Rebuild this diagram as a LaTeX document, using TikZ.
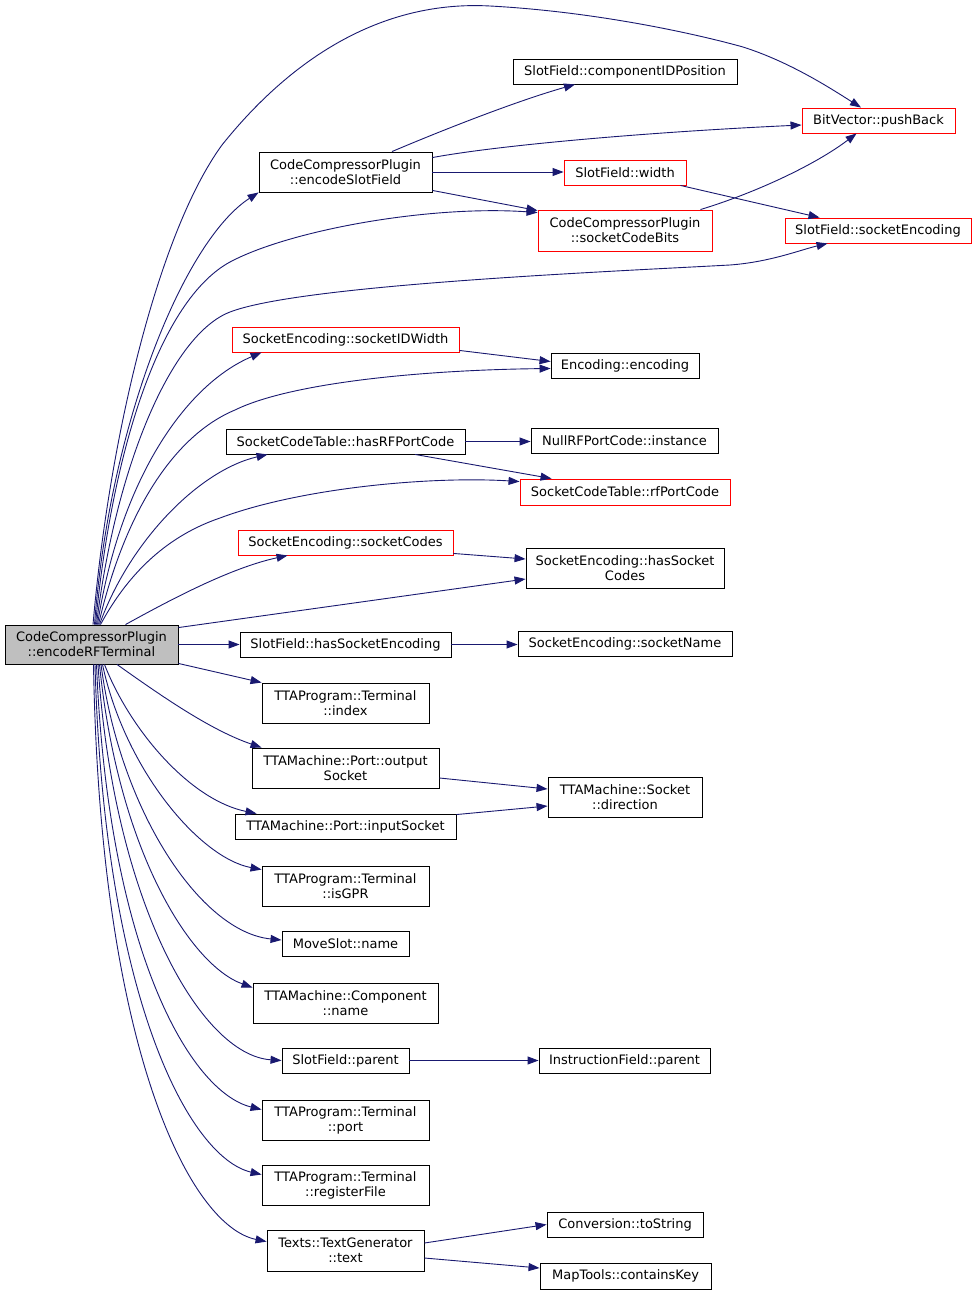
\documentclass[tikz,border=0pt]{standalone}
\usepackage{fontspec}
\setmainfont{DejaVu Sans}
\usetikzlibrary{arrows.meta}
\definecolor{edgeblue}{HTML}{191970}
\definecolor{rootgray}{HTML}{BFBFBF}
\definecolor{redline}{HTML}{FF0000}
\begin{document}
\begin{tikzpicture}[x=1pt,y=-1pt,
 fn/.style={draw=black, line width=0.9pt, fill=white, inner sep=0pt, align=center, font=\fontsize{13}{15}\selectfont},
 redfn/.style={fn, draw=redline},
 edge/.style={draw=edgeblue, line width=0.9pt, -{Triangle[length=11pt,width=8pt]}},
]
\fill[white] (0,0) rectangle (977,1295);
\path[use as bounding box] (0,0) rectangle (977,1295);

% column 1
\node[fn, fill=rootgray, minimum width=173pt, minimum height=39pt] (root) at (91.5,644.5) {CodeCompressorPlugin\\::encodeRFTerminal};

% column 2
\node[fn, minimum width=173pt, minimum height=40pt] (esf) at (345.5,172) {CodeCompressorPlugin\\::encodeSlotField};
\node[redfn, minimum width=227pt, minimum height=25pt] (siw) at (345.5,339.5) {SocketEncoding::socketIDWidth};
\node[fn, minimum width=239pt, minimum height=25pt] (hrpc) at (345.5,441.5) {SocketCodeTable::hasRFPortCode};
\node[redfn, minimum width=215pt, minimum height=25pt] (sc) at (345.5,542.5) {SocketEncoding::socketCodes};
\node[fn, minimum width=211pt, minimum height=25pt] (hse) at (345.5,644.5) {SlotField::hasSocketEncoding};
\node[fn, minimum width=167pt, minimum height=40pt] (idx) at (345.5,703) {TTAProgram::Terminal\\::index};
\node[fn, minimum width=187pt, minimum height=40pt] (os) at (345.5,768) {TTAMachine::Port::output\\Socket};
\node[fn, minimum width=221pt, minimum height=25pt] (is) at (345.5,826.5) {TTAMachine::Port::inputSocket};
\node[fn, minimum width=167pt, minimum height=40pt] (isgpr) at (345.5,886) {TTAProgram::Terminal\\::isGPR};
\node[fn, minimum width=127pt, minimum height=25pt] (mvn) at (345.5,943.5) {MoveSlot::name};
\node[fn, minimum width=185pt, minimum height=40pt] (comp) at (345.5,1003) {TTAMachine::Component\\::name};
\node[fn, minimum width=127pt, minimum height=25pt] (sfp) at (345.5,1060.5) {SlotField::parent};
\node[fn, minimum width=167pt, minimum height=40pt] (port) at (345.5,1120) {TTAProgram::Terminal\\::port};
\node[fn, minimum width=167pt, minimum height=40pt] (rf) at (345.5,1185) {TTAProgram::Terminal\\::registerFile};
\node[fn, minimum width=157pt, minimum height=41pt] (txt) at (345.5,1250.5) {Texts::TextGenerator\\::text};

% column 3
\node[fn, minimum width=224pt, minimum height=25pt] (cidp) at (625,71.5) {SlotField::componentIDPosition};
\node[redfn, minimum width=122pt, minimum height=25pt] (sfw) at (625,172.5) {SlotField::width};
\node[redfn, minimum width=174pt, minimum height=41pt] (scb) at (625,230.5) {CodeCompressorPlugin\\::socketCodeBits};
\node[fn, minimum width=148pt, minimum height=25pt] (enc) at (625,365.5) {Encoding::encoding};
\node[fn, minimum width=187pt, minimum height=25pt] (null) at (624.5,440.5) {NullRFPortCode::instance};
\node[redfn, minimum width=210pt, minimum height=26pt] (rfp) at (625,492) {SocketCodeTable::rfPortCode};
\node[fn, minimum width=198pt, minimum height=40pt] (hsc) at (625,568) {SocketEncoding::hasSocket\\Codes};
\node[fn, minimum width=214pt, minimum height=25pt] (sn) at (625,643.5) {SocketEncoding::socketName};
\node[fn, minimum width=154pt, minimum height=40pt] (dir) at (625,797) {TTAMachine::Socket\\::direction};
\node[fn, minimum width=171pt, minimum height=25pt] (ifp) at (624.5,1060.5) {InstructionField::parent};
\node[fn, minimum width=156pt, minimum height=25pt] (tos) at (625,1224.5) {Conversion::toString};
\node[fn, minimum width=171pt, minimum height=26pt] (mck) at (625.5,1276) {MapTools::containsKey};

% column 4
\node[redfn, minimum width=153pt, minimum height=25pt] (pb) at (878.5,120.5) {BitVector::pushBack};
\node[redfn, minimum width=186pt, minimum height=25pt] (se) at (878,230.5) {SlotField::socketEncoding};

% edges from root, upwards
\draw[edge] ([xshift=1.5pt]root.north) .. controls (110,430) and (160,230) .. (222,145)
  .. controls (290,60) and (380,0) .. (490,6)
  .. controls (600,12) and (700,35) .. (743,47)
  .. controls (790,62) and (830,88) .. ([xshift=-17.5pt]pb.north);
\draw[edge] ([xshift=3pt]root.north) .. controls (110,420) and (185,240) .. (esf.south west);
\draw[edge] ([xshift=4pt]root.north) .. controls (112,450) and (160,300) .. (230,262)
  .. controls (290,230) and (430,205) .. ([yshift=-3pt]scb.north west);
\draw[edge] ([xshift=5pt]root.north) .. controls (115,470) and (170,335) .. (230,312)
  .. controls (300,285) and (600,272) .. (730,265)
  .. controls (770,262) and (800,250) .. ([xshift=43pt]se.south west);
\draw[edge] ([xshift=6pt]root.north) .. controls (120,480) and (185,385) .. ([xshift=30pt]siw.south west);
\draw[edge] ([xshift=7pt]root.north) .. controls (125,510) and (175,435) .. (235,410)
  .. controls (290,383) and (420,370) .. ([yshift=-3pt]enc.west);
\draw[edge] ([xshift=8pt]root.north) .. controls (130,540) and (200,470) .. ([xshift=42pt]hrpc.south west);
\draw[edge] ([xshift=9pt]root.north) .. controls (130,570) and (170,535) .. (220,518)
  .. controls (300,488) and (430,476) .. ([yshift=-3pt]rfp.north west);
\draw[edge] ([xshift=34pt]root.north) .. controls (170,600) and (230,568) .. ([xshift=50pt]sc.south west);
\draw[edge] ([yshift=-3pt]root.north east) -- ([yshift=-11pt]hsc.west);
\draw[edge] (root.east) -- (root.east -| hse.west);
\draw[edge] ([yshift=1pt]root.south east) -- (idx.north west);

% edges from root, downwards
\draw[edge] ([xshift=25.5pt]root.south) .. controls (160,695) and (210,730) .. ([xshift=10pt]os.north west);
\draw[edge] ([xshift=13pt]root.south) .. controls (130,730) and (190,800) .. ([xshift=22pt]is.north west);
\draw[edge] ([xshift=11pt]root.south) .. controls (125,770) and (200,858) .. ([yshift=-4pt]isgpr.north west);
\draw[edge] ([xshift=9.5pt]root.south) .. controls (120,810) and (200,932) .. ([yshift=3.5pt]mvn.west);
\draw[edge] ([xshift=8pt]root.south) .. controls (118,850) and (190,965) .. ([yshift=-5pt]comp.north west);
\draw[edge] ([xshift=6.5pt]root.south) .. controls (113,900) and (200,1055) .. (sfp.west);
\draw[edge] ([xshift=5pt]root.south) .. controls (108,950) and (190,1092) .. ([yshift=-10pt]port.north west);
\draw[edge] ([xshift=3.5pt]root.south) .. controls (104,1000) and (190,1158) .. ([yshift=-10pt]rf.north west);
\draw[edge] ([xshift=2pt]root.south) .. controls (100,1050) and (190,1226) .. ([yshift=-12pt]txt.north west);

% other edges
\draw[edge] ([xshift=46.5pt]esf.north) .. controls (450,127) and (520,100) .. ([xshift=-50pt]cidp.south);
\draw[edge] ([yshift=-6pt]esf.north east) .. controls (500,145) and (650,132) .. ([yshift=-4.5pt]pb.west);
\draw[edge] (esf.east) -- (esf.east -| sfw.west);
\draw[edge] ([yshift=2pt]esf.south east) -- ([yshift=-1pt]scb.north west);
\draw[edge] ([xshift=-6pt]sfw.south east) -- ([xshift=35pt]se.north west);
\draw[edge] ([xshift=-12pt]scb.north east) .. controls (755,193) and (815,165) .. ([xshift=55pt]pb.south west);
\draw[edge] ([yshift=2pt]siw.south east) -- ([yshift=4pt]enc.west);
\draw[edge] (hrpc.east) -- (hrpc.east -| null.west);
\draw[edge] ([xshift=69.5pt]hrpc.south) -- ([xshift=32pt]rfp.north west);
\draw[edge] ([yshift=2pt]sc.south east) -- ([yshift=9pt]hsc.west);
\draw[edge] (hse.east) -- (hse.east -| sn.west);
\draw[edge] ([yshift=-10pt]os.east) -- ([yshift=8pt]dir.west);
\draw[edge] ([yshift=-1pt]is.north east) -- ([yshift=-9pt]dir.west);
\draw[edge] (sfp.east) -- (sfp.east -| ifp.west);
\draw[edge] ([yshift=7.5pt]txt.east) -- (tos.west);
\draw[edge] ([yshift=-7.5pt]txt.east) -- ([yshift=8pt]mck.west);
\end{tikzpicture}
\end{document}
